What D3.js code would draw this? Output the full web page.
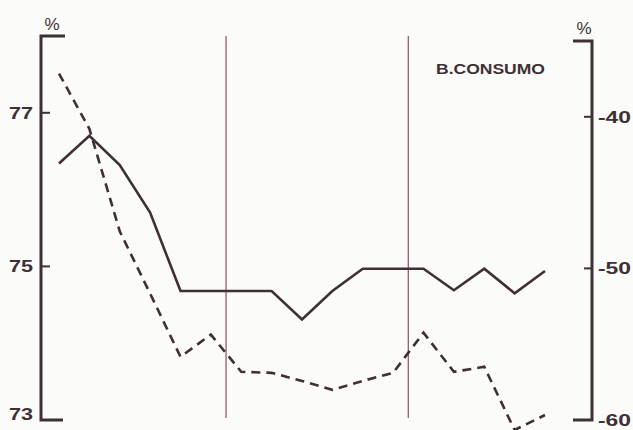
<!DOCTYPE html>
<html><head><meta charset="utf-8">
<script src="https://cdn.jsdelivr.net/npm/d3@7"></script>
<style>html,body{margin:0;padding:0;background:#fbfbfa;}svg{display:block;}</style>
</head><body>
<svg id="c" width="633" height="430"></svg>
<script>
// data (bimonthly periods, 17 points)
const periods = d3.range(17);
const solidValues = [76.34, 76.70, 76.32, 75.70, 74.68, 74.68, 74.68, 74.68, 74.31, 74.68, 74.97, 74.97, 74.97, 74.69, 74.97, 74.65, 74.94];
const dashedValues = [-37.15, -40.79, -47.55, -51.66, -55.83, -54.37, -56.82, -56.89, -57.42, -58.01, -57.42, -56.89, -54.24, -56.82, -56.49, -60.66, -59.67];
const leftTicks = [77, 75, 73];
const rightTicks = [-40, -50, -60];
const yearBreaks = [5.5, 11.5];
const title = "B.CONSUMO";

const svg = d3.select("#c");
const ink = "#3e3034";
const font = "Liberation Sans, Arial, sans-serif";
const x = d3.scaleLinear().domain([0, 16]).range([59, 545]);
const yL = d3.scaleLinear().domain([73, 78]).range([420, 36]);
const yR = d3.scaleLinear().domain([-60, -35]).range([420, 41]);

// year separators
svg.selectAll("line.sep").data(yearBreaks).join("line")
  .attr("class","sep")
  .attr("x1", d => x(d)).attr("x2", d => x(d))
  .attr("y1", 36).attr("y2", 418)
  .attr("stroke", "#9a5a6c").attr("stroke-width", 1.3);

// left axis
svg.append("path")
  .attr("d", `M65,${yL(78)}H41V${yL(73)}H63`)
  .attr("fill","none").attr("stroke",ink).attr("stroke-width",3);
svg.selectAll("line.lt").data(leftTicks.slice(0,2)).join("line")
  .attr("x1",41).attr("x2",50).attr("y1",d=>yL(d)).attr("y2",d=>yL(d))
  .attr("stroke",ink).attr("stroke-width",2);
svg.selectAll("text.lt").data(leftTicks).join("text")
  .attr("x",9).attr("y",d=>yL(d)+ (d===73? 0 : 6))
  .attr("textLength",24).attr("lengthAdjust","spacingAndGlyphs")
  .attr("font-family",font).attr("font-weight","bold")
  .attr("font-size",16).attr("fill",ink).text(d=>d);
svg.append("text").attr("x",52).attr("y",30).attr("text-anchor","middle")
  .attr("font-family",font).attr("font-size",17).attr("fill",ink).text("%");

// right axis
svg.append("path")
  .attr("d", `M573,${yR(-35)}H592V${yR(-60)}H573`)
  .attr("fill","none").attr("stroke",ink).attr("stroke-width",3);
svg.selectAll("line.rt").data(rightTicks.slice(0,2)).join("line")
  .attr("x1",584).attr("x2",592).attr("y1",d=>yR(d)).attr("y2",d=>yR(d))
  .attr("stroke",ink).attr("stroke-width",2);
svg.selectAll("text.rt").data(rightTicks).join("text")
  .attr("x",598).attr("y",d=>yR(d)+6)
  .attr("textLength",33).attr("lengthAdjust","spacingAndGlyphs")
  .attr("font-family",font).attr("font-weight","bold")
  .attr("font-size",16).attr("fill",ink).text(d=>d);
svg.append("text").attr("x",584).attr("y",34).attr("text-anchor","middle")
  .attr("font-family",font).attr("font-size",17).attr("fill",ink).text("%");

// title
svg.append("text").attr("x",436).attr("y",74)
  .attr("textLength",109).attr("lengthAdjust","spacingAndGlyphs")
  .attr("font-family",font).attr("font-weight","bold")
  .attr("font-size",14).attr("fill",ink).text(title);

// series
const lineL = d3.line().x((d,i)=>x(periods[i])).y(d=>yL(d));
const lineR = d3.line().x((d,i)=>x(periods[i])).y(d=>yR(d));
svg.append("path").datum(solidValues).attr("d",lineL)
  .attr("fill","none").attr("stroke",ink).attr("stroke-width",2.6).attr("stroke-linejoin","miter");
svg.append("path").datum(dashedValues).attr("d",lineR)
  .attr("fill","none").attr("stroke",ink).attr("stroke-width",2.6).attr("stroke-dasharray","9,6");
</script>
</body></html>
